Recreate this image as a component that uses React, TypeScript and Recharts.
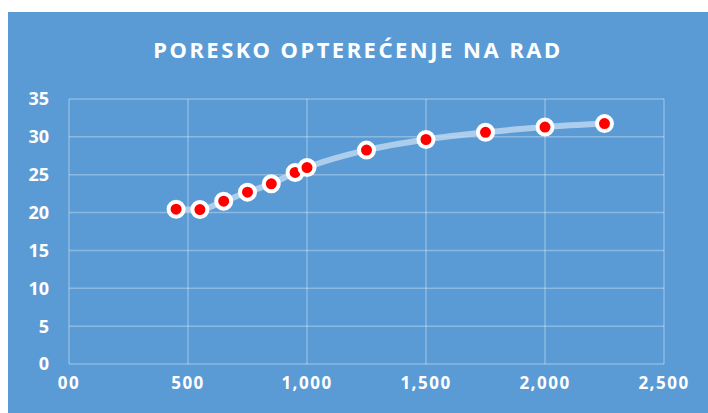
import React from "react";
import { LineChart, Line, XAxis, YAxis, CartesianGrid } from "recharts";

const incomes = [450, 550, 650, 750, 850, 950, 1000, 1250, 1500, 1750, 2000, 2250];
const taxBurden = [20.45, 20.4, 21.5, 22.7, 23.8, 25.3, 25.95, 28.25, 29.65, 30.6, 31.3, 31.75];
const xTicks = [0, 500, 1000, 1500, 2000, 2500];
const xTickLabels = ["00", "500", "1,000", "1,500", "2,000", "2,500"];
const yTicks = [0, 5, 10, 15, 20, 25, 30, 35];
const title = "PORESKO OPTERE\u0106ENJE NA RAD";

const data = incomes.map((x, i) => ({ x, y: taxBurden[i] }));

const FONT = "'Open Sans', sans-serif";

const Dot = (props: any) => {
  const { cx, cy } = props;
  if (cx == null || cy == null) return null;
  return <circle cx={cx} cy={cy} r={7.5} fill="#FF0000" stroke="#FFFFFF" strokeWidth={4} />;
};

export default function App() {
  return (
    <div style={{ position: "absolute", left: 0, top: 0, width: 708, height: 413, background: "#fff", overflow: "hidden" }}>
      <div style={{ position: "absolute", left: 8, top: 12, width: 700, height: 401, background: "#5B9BD5" }} />
      <div
        style={{
          position: "absolute",
          left: 8,
          width: 700,
          top: 34,
          textAlign: "center",
          color: "#fff",
          fontFamily: "'Noto Sans', sans-serif",
          fontWeight: 700,
          fontSize: 22,
          letterSpacing: 2.5,
          lineHeight: "30px",
          textTransform: "uppercase",
        }}
      >
        {title}
      </div>
      <div style={{ position: "absolute", left: 0, top: 0 }}>
        <LineChart width={708} height={413} data={data} margin={{ top: 99, right: 44, bottom: 19, left: 0 }}>
          <CartesianGrid stroke="#FFFFFF" strokeOpacity={0.3} strokeWidth={1.5} />
          <XAxis
            dataKey="x"
            type="number"
            domain={[0, 2500]}
            ticks={xTicks}
            tickFormatter={(v: number) => xTickLabels[xTicks.indexOf(v)] ?? String(v)}
            axisLine={false}
            tickLine={false}
            tickSize={0}
            tickMargin={13}
            height={30}
            interval={0}
            tick={{ fill: "#fff", fontFamily: FONT, fontWeight: 700, fontSize: 17, letterSpacing: 1.5 }}
          />
          <YAxis
            type="number"
            domain={[0, 35]}
            ticks={yTicks}
            axisLine={false}
            tickLine={false}
            tickSize={0}
            tickMargin={20}
            width={69}
            interval={0}
            tick={{ fill: "#fff", fontFamily: FONT, fontWeight: 700, fontSize: 18 }}
          />
          <Line
            type="monotone"
            dataKey="y"
            stroke="#BCD6F0"
            strokeOpacity={0.85}
            strokeWidth={6}
            dot={<Dot />}
            activeDot={false}
            isAnimationActive={false}
          />
        </LineChart>
      </div>
    </div>
  );
}
